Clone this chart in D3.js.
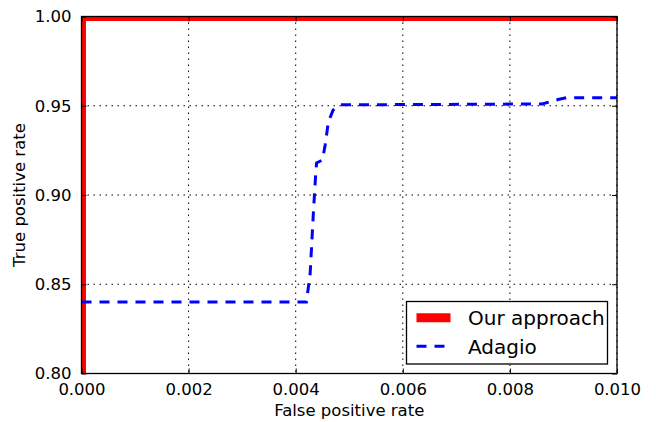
<!DOCTYPE html>
<html>
<head>
<meta charset="utf-8">
<script src="https://cdn.jsdelivr.net/npm/d3@7"></script>
<style>
  body { margin: 0; background: #fff; }
  text { font-family: "DejaVu Sans", sans-serif; fill: #000; }
</style>
</head>
<body>
<div class="chart"></div>
<script>
// ROC curves, zoomed in on low FPR
var xTicks = [0, 0.002, 0.004, 0.006, 0.008, 0.010];
var yTicks = [0.80, 0.85, 0.90, 0.95, 1.00];

var oursFpr = [0, 0, 1];
var oursTpr = [0, 1, 1];

var adagioFpr = [0, 0.0042, 0.00427, 0.00433, 0.00437, 0.00439, 0.0045, 0.00455, 0.00461, 0.0047, 0.00483, 0.0086, 0.0089, 0.00906, 0.01];
var adagioTpr = [0.84, 0.84, 0.856, 0.89, 0.910, 0.918, 0.9196, 0.928, 0.941, 0.9476, 0.9505, 0.951, 0.9535, 0.9545, 0.9545];

var legendNames = ['Our approach', 'Adagio'];

var svg_width = 656,
    svg_height = 422,
    margin = {top: 16.5, right: 39, bottom: 48.5, left: 81.5},
    width = svg_width - margin.left - margin.right,
    height = svg_height - margin.top - margin.bottom;

var svg = d3.select('.chart').append('svg')
  .attr('width', svg_width).attr('height', svg_height);

var g = svg.append('g').attr('transform', 'translate(' + margin.left + ',' + margin.top + ')');

var x = d3.scaleLinear().domain([0, 0.01]).range([0, width]);
var y = d3.scaleLinear().domain([0.8, 1.0]).range([height, 0]);

svg.append('defs').append('clipPath').attr('id', 'clip')
  .append('rect').attr('width', width).attr('height', height);

// grid
g.append('g').selectAll('line').data(xTicks).enter().append('line')
  .attr('x1', function(d) { return x(d); }).attr('x2', function(d) { return x(d); })
  .attr('y1', 0).attr('y2', height)
  .attr('stroke', '#000').attr('stroke-width', 1).attr('stroke-dasharray', '1.5,4.5');
g.append('g').selectAll('line').data(yTicks).enter().append('line')
  .attr('y1', function(d) { return y(d); }).attr('y2', function(d) { return y(d); })
  .attr('x1', 0).attr('x2', width)
  .attr('stroke', '#000').attr('stroke-width', 1).attr('stroke-dasharray', '1.5,4.5');

var line = d3.line()
  .x(function(d) { return x(d[0]); })
  .y(function(d) { return y(d[1]); });

var lines = g.append('g').attr('clip-path', 'url(#clip)');

lines.append('path')
  .datum(d3.zip(oursFpr, oursTpr))
  .attr('d', line)
  .attr('fill', 'none').attr('stroke', '#ff0000').attr('stroke-width', 9);

lines.append('path')
  .datum(d3.zip(adagioFpr, adagioTpr))
  .attr('d', line)
  .attr('fill', 'none').attr('stroke', '#0000ff').attr('stroke-width', 3)
  .attr('stroke-dasharray', '10,8');

// axes, ticks inside on all sides
function styleAxis(sel) {
  sel.select('.domain').remove();
  sel.selectAll('.tick line').attr('stroke', '#000').attr('stroke-width', 1);
  sel.selectAll('.tick text').style('font-size', '16.5px');
}

g.append('g').attr('transform', 'translate(0,' + height + ')')
  .call(d3.axisBottom(x).tickValues(xTicks).tickFormat(d3.format('.3f')).tickSizeInner(-5).tickPadding(10))
  .call(styleAxis);
g.append('g')
  .call(d3.axisTop(x).tickValues(xTicks).tickFormat('').tickSizeInner(-5))
  .call(styleAxis);
g.append('g')
  .call(d3.axisLeft(y).tickValues(yTicks).tickFormat(d3.format('.2f')).tickSizeInner(-5).tickPadding(10))
  .call(styleAxis);
g.append('g').attr('transform', 'translate(' + width + ',0)')
  .call(d3.axisRight(y).tickValues(yTicks).tickFormat('').tickSizeInner(-5))
  .call(styleAxis);

g.append('rect').attr('width', width).attr('height', height)
  .attr('fill', 'none').attr('stroke', '#000').attr('stroke-width', 1.3);

// labels
g.append('text').attr('x', width / 2).attr('y', height + 42.5)
  .attr('text-anchor', 'middle').style('font-size', '16.5px').text('False positive rate');
g.append('text').attr('transform', 'translate(' + (-57) + ',' + (height / 2) + ') rotate(-90)')
  .attr('text-anchor', 'middle').style('font-size', '16.5px').text('True positive rate');

// legend
var lg = svg.append('g').attr('transform', 'translate(406.5,301.5)');
lg.append('rect').attr('width', 201).attr('height', 62.5)
  .attr('fill', '#fff').attr('stroke', '#000').attr('stroke-width', 1.3);
var styles = [
  {stroke: '#ff0000', w: 9, dash: null},
  {stroke: '#0000ff', w: 3, dash: '10,8'}
];
legendNames.forEach(function(name, i) {
  var cy = 16.2 + i * 28.5;
  lg.append('line').attr('x1', 10).attr('x2', 44).attr('y1', cy).attr('y2', cy)
    .attr('stroke', styles[i].stroke).attr('stroke-width', styles[i].w)
    .attr('stroke-dasharray', styles[i].dash);
  lg.append('text').attr('x', 61.5).attr('y', cy + 7.3)
    .style('font-size', '20px').text(name);
});
</script>
</body>
</html>
